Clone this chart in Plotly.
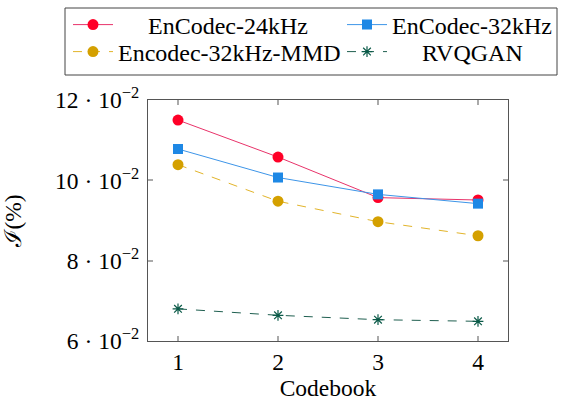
import plotly.graph_objects as go

codebooks = [1, 2, 3, 4]
encodec_24 = [0.1150, 0.1058, 0.0957, 0.0951]
encodec_32 = [0.1078, 0.1007, 0.0965, 0.0942]
encodec_32_mmd = [0.1039, 0.0948, 0.0897, 0.0862]
rvqgan = [0.0680, 0.0664, 0.0653, 0.0649]

ytick_vals = [0.06, 0.08, 0.10, 0.12]
ytick_text = ["6 · 10<sup>−2</sup>", "8 · 10<sup>−2</sup>", "10 · 10<sup>−2</sup>", "12 · 10<sup>−2</sup>"]

FONT = "Liberation Serif"
FS = 23.5
NB = "\u00a0"

fig = go.Figure()
fig.add_trace(go.Scatter(x=codebooks, y=encodec_24, mode="lines+markers",
                         name=NB * 5 + "EnCodec-24kHz", legend="legend",
                         line=dict(color="#E8336A", width=1),
                         marker=dict(color="#FF0027", size=11, symbol="circle")))
fig.add_trace(go.Scatter(x=codebooks, y=encodec_32, mode="lines+markers",
                         name="EnCodec-32kHz", legend="legend2",
                         line=dict(color="#3D95E8", width=1),
                         marker=dict(color="#1E88E5", size=10, symbol="square")))
fig.add_trace(go.Scatter(x=codebooks, y=encodec_32_mmd, mode="lines+markers",
                         name="Encodec-32kHz-MMD", legend="legend3",
                         line=dict(color="#E2B42A", width=1, dash="dash"),
                         marker=dict(color="#D4A000", size=11, symbol="circle")))
fig.add_trace(go.Scatter(x=codebooks, y=rvqgan, mode="lines+markers",
                         name=NB * 5 + "RVQGAN", legend="legend4",
                         line=dict(color="#1F5F50", width=1, dash="dash"),
                         marker=dict(color="#0B5A48", size=9, symbol="asterisk-open",
                                     line=dict(color="#0B5A48", width=1.2))))

axis_common = dict(showgrid=False, zeroline=False, showline=True, linecolor="#555555",
                   linewidth=1.2, mirror="ticks", ticks="inside", ticklen=5,
                   tickcolor="#aaaaaa", tickwidth=1.5, automargin=False,
                   tickfont=dict(family=FONT, size=FS, color="black"))

# plot area: x 148..508, y 100..341 (px)
def px_x(p):
    return (p - 148) / 360.0

def px_y(p):
    return (341 - p) / 241.0

def leg(x, y):
    return dict(x=px_x(x), y=px_y(y), xanchor="left", yanchor="middle",
                borderwidth=0, bgcolor="rgba(0,0,0,0)", itemwidth=40,
                font=dict(family=FONT, size=24, color="black"))

fig.update_layout(
    width=561, height=401,
    margin=dict(l=148, r=53, t=100, b=60, autoexpand=False),
    paper_bgcolor="white", plot_bgcolor="white",
    font=dict(family=FONT, size=FS, color="black"),
    showlegend=True,
    legend=leg(68, 25),
    legend2=leg(342, 25),
    legend3=leg(68, 52),
    legend4=leg(342, 52),
    shapes=[dict(type="rect", xref="paper", yref="paper",
                 x0=px_x(65), x1=px_x(557), y0=px_y(8), y1=px_y(75),
                 line=dict(color="#444444", width=1), fillcolor="rgba(0,0,0,0)")],
    xaxis=dict(range=[0.7, 4.3], tickvals=codebooks, ticktext=[str(c) for c in codebooks],
               title=dict(text="Codebook", font=dict(size=FS), standoff=6), **axis_common),
    yaxis=dict(range=[0.06, 0.12], tickvals=ytick_vals, ticktext=ytick_text,
               ticklabelstandoff=3,
               title=dict(text="ℐ(%)", font=dict(size=FS), standoff=27), **axis_common),
)

fig.write_html("out.html", config={"displayModeBar": False},
               post_script="document.body.style.margin='0';document.body.style.overflow='hidden';")
